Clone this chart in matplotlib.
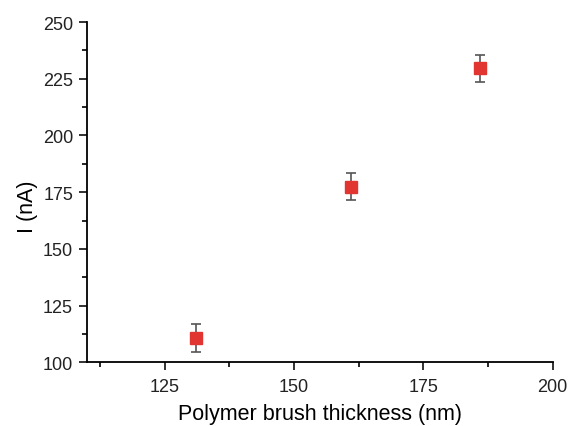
import matplotlib
matplotlib.use('Agg')
import matplotlib.pyplot as plt
from matplotlib.ticker import MultipleLocator

plt.rcParams['font.family'] = ['Liberation Sans', 'DejaVu Sans']

# Data
thickness = [131.0, 161.0, 186.0]
current = [110.7, 177.4, 229.7]
current_err = [6.0, 6.0, 6.0]

fig = plt.figure(figsize=(5.72, 4.27), dpi=100)
ax = fig.add_axes([0.152, 0.149, 0.814, 0.797])

ax.errorbar(thickness, current, yerr=current_err, fmt='s', color='#e03530',
            markersize=8, ecolor='#555555', elinewidth=1.2, capsize=3.5,
            capthick=1.2, zorder=3)

ax.set_xlim(110, 200)
ax.set_ylim(100, 250)
ax.xaxis.set_major_locator(MultipleLocator(25))
ax.xaxis.set_minor_locator(MultipleLocator(12.5))
ax.yaxis.set_major_locator(MultipleLocator(25))
ax.yaxis.set_minor_locator(MultipleLocator(12.5))

for side in ['top', 'right']:
    ax.spines[side].set_visible(False)
for side in ['left', 'bottom']:
    ax.spines[side].set_linewidth(1.3)

ax.tick_params(which='major', direction='out', length=6, width=1.3,
               labelsize=13, colors='#222222')
ax.tick_params(axis='y', which='major', pad=4)
ax.tick_params(axis='x', which='major', pad=5)
ax.tick_params(which='minor', direction='out', length=3.5, width=1.2)

ax.set_xlabel('Polymer brush thickness (nm)', fontsize=15.5, labelpad=6)
ax.set_ylabel('I (nA)', fontsize=15.5)
ax.yaxis.set_label_coords(-0.105, 0.46)

fig.savefig('out.png', dpi=100)
